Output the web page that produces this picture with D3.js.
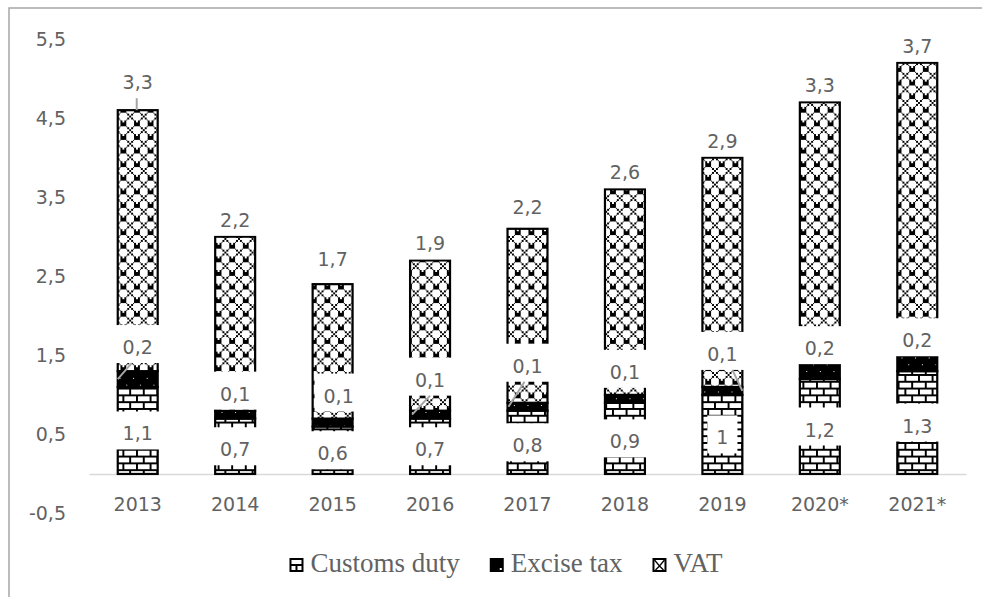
<!DOCTYPE html>
<html>
<head>
<meta charset="utf-8">
<script src="https://cdn.jsdelivr.net/npm/d3@7"></script>
<style>
  html, body { margin: 0; padding: 0; background: #fff; }
  svg { display: block; }
</style>
</head>
<body>
<svg id="chart" width="982" height="597"></svg>
<script>
// ---- data ----
const years       = ["2013", "2014", "2015", "2016", "2017", "2018", "2019", "2020*", "2021*"];
const customsDuty = [1.1, 0.7, 0.6, 0.7, 0.8, 0.9, 1, 1.2, 1.3];
const exciseTax   = [0.2, 0.1, 0.1, 0.1, 0.1, 0.1, 0.1, 0.2, 0.2];
const vat         = [3.3, 2.2, 1.7, 1.9, 2.2, 2.6, 2.9, 3.3, 3.7];
const seriesNames = ["Customs duty", "Excise tax", "VAT"];
const yTicks      = [-0.5, 0.5, 1.5, 2.5, 3.5, 4.5, 5.5];

// ---- hand-placed data label layout (pixels) ----
const exciseLabelLift  = [35, 24, 30, 38, 44, 30, 40, 26, 26];
const exciseLabelShift = [0, 0, 6, 0, 0, 0, 0, 0, 0];
const exciseLeaders    = [[-6, -20], null, null, [0, -18], [-3, -19], null, [10, 20], null, null];
const vatLabelGap      = [12, 1, 9, 1, 6, 1, 1, 1, 1];
const vatLeader        = [true, false, false, false, false, false, false, false, false];

const svg = d3.select("#chart");
const labelFont = "'DejaVu Sans', Verdana, sans-serif";
const legendFont = "'Liberation Serif', 'Times New Roman', serif";
const textGray = "#626262";

// chart frame
svg.append("rect").attr("x", 9).attr("y", 8).attr("width", 1200).attr("height", 800)
  .attr("fill", "none").attr("stroke", "#a6a6a6").attr("stroke-width", 1.5);

// ---- fill patterns built from 8x8 bitmaps ----
const defs = svg.append("defs");
function bitmapPattern(id, rows, fg, bg) {
  const p = defs.append("pattern").attr("id", id)
    .attr("patternUnits", "userSpaceOnUse")
    .attr("width", 8).attr("height", 8)
    .attr("patternTransform", "scale(1.7)");
  p.append("rect").attr("width", 8).attr("height", 8).attr("fill", bg);
  rows.forEach((row, r) => {
    [...row].forEach((ch, c) => {
      if (ch === "#") p.append("rect").attr("x", c).attr("y", r)
        .attr("width", 1).attr("height", 1).attr("fill", fg)
        .attr("shape-rendering", "crispEdges");
    });
  });
}
bitmapPattern("brick", [
  "########",
  "#.......",
  "#.......",
  "#.......",
  "########",
  "....#...",
  "....#...",
  "....#..."
], "#000", "#fff");
bitmapPattern("dots", [
  "########",
  "########",
  "##.#####",
  "########",
  "########",
  "########",
  "######.#",
  "########"
], "#000", "#fff");
bitmapPattern("diamond", [
  "##.....#",
  "##.....#",
  "..#...#.",
  "...#.#..",
  "....#...",
  "...#.#..",
  "..#...#.",
  ".#.....#"
], "#000", "#fff");
const fills = ["url(#brick)", "url(#dots)", "url(#diamond)"];

// ---- scales ----
const x = d3.scaleBand().domain(years).range([89, 966]).paddingInner(0.59).paddingOuter(0.295);
const y = d3.scaleLinear().domain([-0.5, 5.5]).range([513.5, 39]);

const rows = years.map((yr, i) => ({ year: yr, customs: customsDuty[i], excise: exciseTax[i], vat: vat[i] }));
const keys = ["customs", "excise", "vat"];
const stacked = d3.stack().keys(keys)(rows);

// ---- category axis ----
const xAxis = svg.append("g").attr("transform", `translate(0,${y(0)})`)
  .call(d3.axisBottom(x).tickSize(0).tickSizeOuter(0));
xAxis.select(".domain").attr("stroke", "#d9d9d9").attr("stroke-width", 1.6);
xAxis.selectAll("text").attr("y", 37).attr("dy", 0)
  .style("font-family", labelFont).style("font-size", "19px").attr("fill", textGray);

// ---- value axis (labels only) ----
const yAxis = svg.append("g").attr("transform", "translate(89,0)")
  .call(d3.axisLeft(y).tickValues(yTicks).tickSize(0).tickPadding(23)
    .tickFormat(d => String(d).replace(".", ",")));
yAxis.select(".domain").remove();
yAxis.selectAll("text").style("font-family", labelFont).style("font-size", "19px").attr("fill", textGray);

// ---- stacked bars ----
const bars = svg.append("g");
stacked.forEach((layer, si) => {
  bars.selectAll(null).data(layer).enter().append("rect")
    .attr("x", d => x(d.data.year))
    .attr("width", x.bandwidth())
    .attr("y", d => y(d[1]))
    .attr("height", d => y(d[0]) - y(d[1]))
    .attr("fill", fills[si])
    .attr("stroke", "#000")
    .attr("stroke-width", 2.2);
});

// ---- data labels with white boxes ----
const fmt = v => String(v).replace(".", ",");
const boxH = 38, boxPad = 9;
const labels = [];
years.forEach((yr, i) => {
  const cx = x(yr) + x.bandwidth() / 2;
  const c = customsDuty[i], e = exciseTax[i], v = vat[i];
  labels.push({ cx, cy: y(c / 2), text: fmt(c) });
  const eMid = y(c + e / 2);
  const ecy = eMid - exciseLabelLift[i];
  const lead = exciseLeaders[i];
  labels.push({ cx: cx + exciseLabelShift[i], cy: ecy, text: fmt(e),
    leader: lead ? [cx + lead[0], ecy + boxH / 2, cx + lead[1], eMid] : null });
  const top = y(c + e + v);
  const vBottom = top - vatLabelGap[i];
  const vcy = vBottom - boxH / 2;
  labels.push({ cx, cy: vcy, text: fmt(v),
    leader: vatLeader[i] ? [cx - 1, vBottom, cx - 1, top] : null });
});

const lg = svg.append("g");
labels.forEach(l => {
  const g = lg.append("g");
  const rect = g.append("rect").attr("fill", "#fff");
  const t = g.append("text")
    .attr("x", l.cx).attr("y", l.cy + 10)
    .attr("text-anchor", "middle")
    .style("font-family", labelFont).style("font-size", "19px")
    .attr("fill", textGray).text(l.text);
  const w = t.node().getComputedTextLength() + 2 * boxPad;
  rect.attr("x", l.cx - w / 2).attr("y", l.cy - boxH / 2).attr("width", w).attr("height", boxH);
});
labels.filter(l => l.leader).forEach(l => {
  lg.append("line")
    .attr("x1", l.leader[0]).attr("y1", l.leader[1])
    .attr("x2", l.leader[2]).attr("y2", l.leader[3])
    .attr("stroke", "#a6a6a6").attr("stroke-width", 2);
});

// ---- legend ----
const legend = svg.append("g");
const iconS = 14, iconGap = 7, itemGap = 30, legendY = 558;
const items = seriesNames.map(name => {
  const t = legend.append("text").style("font-family", legendFont).style("font-size", "27px")
    .attr("fill", textGray).text(name);
  return { name, t, w: t.node().getComputedTextLength() };
});
const totalW = d3.sum(items, d => iconS + iconGap + d.w) + itemGap * (items.length - 1);
let lx = 506 - totalW / 2;
items.forEach((it, i) => {
  const g = legend.append("g").attr("transform", `translate(${lx},${legendY})`);
  if (i === 0) {
    g.append("rect").attr("x", 1).attr("y", 1).attr("width", iconS - 2).attr("height", iconS - 2)
      .attr("fill", "#fff").attr("stroke", "#000").attr("stroke-width", 2);
    g.append("line").attr("x1", 1).attr("x2", iconS - 1).attr("y1", iconS / 2).attr("y2", iconS / 2)
      .attr("stroke", "#000").attr("stroke-width", 2);
    g.append("line").attr("x1", iconS / 2).attr("x2", iconS / 2).attr("y1", iconS / 2).attr("y2", iconS - 1)
      .attr("stroke", "#000").attr("stroke-width", 2);
  } else if (i === 1) {
    g.append("rect").attr("width", iconS).attr("height", iconS).attr("fill", "#000");
    g.append("rect").attr("x", iconS - 4).attr("y", iconS - 4).attr("width", 2).attr("height", 2).attr("fill", "#fff");
  } else {
    g.append("rect").attr("x", 1).attr("y", 1).attr("width", iconS - 2).attr("height", iconS - 2)
      .attr("fill", "#fff").attr("stroke", "#000").attr("stroke-width", 2);
    g.append("path").attr("d", `M2,2 L${iconS / 2},${iconS / 2 + 1} L${iconS - 2},2 M${iconS / 2},${iconS / 2 + 1} L3,${iconS - 2} M${iconS / 2},${iconS / 2 + 1} L${iconS - 3},${iconS - 2}`)
      .attr("fill", "none").attr("stroke", "#000").attr("stroke-width", 1.3);
  }
  it.t.attr("x", lx + iconS + iconGap).attr("y", legendY + 14);
  lx += iconS + iconGap + it.w + itemGap;
});
</script>
</body>
</html>
